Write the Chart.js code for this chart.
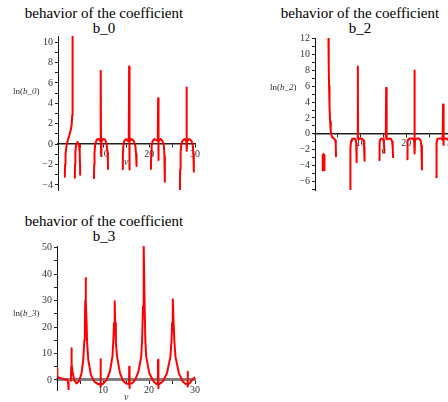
<!DOCTYPE html>
<html>
<head>
<meta charset="utf-8">
<script src="https://cdn.jsdelivr.net/npm/chart.js@4.4.0/dist/chart.umd.min.js"></script>
<style>
  html, body { margin: 0; padding: 0; width: 448px; height: 402px; overflow: hidden; background: #fff; }
  canvas { position: absolute; }
  .title { position: absolute; width: 224px; text-align: center; font: 15px "Liberation Serif", serif; line-height: 15px; color: #000; }
  .ylab { position: absolute; font: 9px "Liberation Serif", serif; line-height: 12px; color: #333; white-space: nowrap; }
  .xlab { position: absolute; font: italic 10px "Liberation Serif", serif; line-height: 12px; color: #333; }
</style>
</head>
<body>
<div class="title" style="left:-8px;top:6px">behavior of the coefficient<br>b_0</div>
<div class="title" style="left:248px;top:6px">behavior of the coefficient<br>b_2</div>
<div class="title" style="left:-8px;top:214px">behavior of the coefficient<br>b_3</div>

<canvas id="chartB0" width="224" height="200" style="left:0;top:0"></canvas>
<canvas id="chartB2" width="260" height="200" style="left:224px;top:0"></canvas>
<canvas id="chartB3" width="224" height="202" style="left:0;top:200px"></canvas>

<div class="ylab" style="left:13px;top:85px">ln(<i>b_0</i>)</div>
<div class="ylab" style="left:270px;top:81px">ln(<i>b_2</i>)</div>
<div class="ylab" style="left:13px;top:307px">ln(<i>b_3</i>)</div>
<div class="xlab" style="left:124px;top:156px">ν</div>
<div class="xlab" style="left:381px;top:145px">ν</div>
<div class="xlab" style="left:124px;top:391px">ν</div>

<script>
// Valores (null = corte entre ramas)
const b0Nu = [1.5, 1.55, 1.65, 1.85, 2.1, 2.5, 2.8, 3.0, 3.1, 3.15, 3.2, 3.23, 3.23,
    3.7, 3.73, 3.8, 3.95, 4.3, 4.6, 4.75, 4.82, 4.85, 4.85,
    7.88, 7.92, 8.0, 8.15, 8.5, 8.9, 9.2, 9.33, 9.38, 9.43, 9.5, 9.8, 10.3, 10.65, 10.85, 10.92, 10.95, 10.95,
    14.15, 14.2, 14.3, 14.5, 14.9, 15.3, 15.5, 15.57, 15.63, 15.7, 16.1, 16.6, 16.95, 17.1, 17.2, 17.2,
    20.35, 20.4, 20.5, 20.7, 21.1, 21.6, 21.85, 21.92, 21.98, 22.05, 22.5, 22.9, 23.2, 23.3, 23.4, 23.4,
    26.7, 26.75, 26.85, 27.0, 27.3, 27.7, 28.0, 28.1, 28.15, 28.2, 28.3, 28.7, 29.2, 29.5, 29.65, 29.75];
const b0Ln = [-3.2, -2.0, -1.0, -0.2, 0.3, 0.9, 1.4, 1.9, 2.8, 4.5, 7.5, 10.6, null,
    -3.3, -2, -0.8, -0.1, 0.2, -0.1, -0.8, -2, -3.0, null,
    -3.35, -2, -0.8, 0, 0.45, 0.5, 0.3, 0.5, 7.2, -1.1, 0.2, 0.5, 0.45, 0, -0.8, -1.6, -2.45, null,
    -2.45, -1.2, -0.2, 0.3, 0.5, 0.3, 0.5, 7.6, -2.5, 0.3, 0.5, 0.3, -0.2, -1.0, -2.15, null,
    -2.45, -1.2, -0.2, 0.3, 0.5, 0.35, 0.5, 4.5, -1.55, 0.3, 0.5, 0.3, -0.2, -1.2, -3.7, null,
    -4.6, -2.5, -0.8, 0, 0.35, 0.5, 0.3, 0.5, 5.55, -0.65, 0.3, 0.5, 0.35, -0.1, -1.0, -2.7];

const b2Nu = [1.65, 1.68, 1.72, 1.85, 2.0, 2.05, 2.1, 2.1,
    2.95, 3.0, 3.08, 3.18, 3.3, 3.45, 3.6, 3.85, 4.2, 4.45, 4.55, 4.6, 4.6,
    7.7, 7.73, 7.78, 7.9, 8.1, 8.6, 8.9, 9.02, 9.1, 9.15, 9.15,
    9.33, 9.38, 9.43, 9.55, 9.9, 10.4, 10.65, 10.75, 10.85, 10.85,
    14.07, 14.1, 14.18, 14.35, 14.7, 14.95, 15.1, 15.2, 15.2,
    15.5, 15.58, 15.63, 15.75, 16.2, 16.65, 16.9, 17.02, 17.1, 17.1,
    20.2, 20.23, 20.3, 20.45, 20.8, 21.3, 21.6, 21.72, 21.78, 21.84, 21.9, 22.2, 22.8, 23.1, 23.3, 23.42, 23.42,
    26.55, 26.58, 26.65, 26.8, 27.2, 27.7, 27.95, 28.05, 28.12, 28.2, 28.6, 29.1, 29.4, 29.55, 29.65];
const b2Ln = [-4.6, -3.2, -2.7, -2.55, -2.7, -3.2, -4.6, null,
    12.2, 9, 6, 3.5, 1.5, 0.4, -0.2, -0.5, -0.6, -0.8, -1.5, -2.85, null,
    -7.2, -4, -1.8, -0.9, -0.65, -0.6, -0.7, -1.2, -2.2, -3.6, null,
    -0.5, 8.5, -0.5, -0.7, -0.6, -0.65, -0.9, -1.6, -3.4, null,
    -3.3, -2, -1, -0.65, -0.6, -0.7, -1.2, -2.4, null,
    -0.5, 5.8, -0.5, -0.7, -0.6, -0.65, -1, -1.8, -2.95, null,
    -3.2, -2, -1, -0.65, -0.6, -0.6, -0.7, -1.0, 8.0, -2.5, -0.8, -0.6, -0.6, -0.8, -1.5, -4.5, null,
    -5.5, -3, -1.2, -0.65, -0.6, -0.6, -0.8, 3.7, -1.4, -0.7, -0.6, -0.65, -1, -2, -3.5];

const b3Nu = [0.05, 0.08, 0.5, 1.2, 1.7, 2.2, 2.4, 2.5, 2.55, 2.55,
    3.02, 3.08, 3.13, 3.22, 3.37, 3.73, 4.24, 4.75, 5.33, 5.7, 5.95, 6.06, 6.15, 6.22, 6.3, 6.43, 6.55, 6.8, 7.37,
    8.1, 8.83, 9.35, 9.45, 9.55, 9.65, 10.0, 10.8, 11.5, 12.05, 12.25, 12.4, 12.55, 12.65, 12.8, 13.06, 13.7,
    14.45, 15.1, 15.65, 15.7, 15.75, 15.8, 16.3, 17.0, 17.7, 18.3, 18.5, 18.7, 18.85, 19.05, 19.2, 19.4, 20.07,
    21.0, 21.6, 21.93, 21.97, 22.02, 22.07, 22.3, 23.0, 23.9, 24.66, 24.9, 25.03, 25.17, 25.35, 25.5, 25.75, 26.5,
    27.35, 27.95, 28.35, 28.4, 28.45, 28.5, 28.8, 29.4, 29.9];
const b3Ln = [4.4, 1.3, 0.8, 0.5, 0.25, 0, -0.8, -2, -3.8, null,
    -0.3, 5, 12, 6, 3.1, 0, -1.3, -0.6, 2.5, 7.6, 15, 21.5, 30, 38.5, 30, 21.5, 14, 7.6, 1.9,
    -0.6, -1.5, -1.4, 7.8, -2.5, -1.4, -1.5, 0, 3.2, 8.8, 15, 21.5, 29.7, 21.5, 14, 8.8, 2.5,
    -0.6, -1.4, -1.3, 5.0, -3.1, -1.3, -1.3, 0, 3.1, 8.8, 15, 27.8, 50.5, 27.8, 15, 8.8, 2.5,
    -0.6, -1.5, -1.4, 7.6, -3.1, -1.4, -1.5, -0.6, 2.5, 8.8, 15, 21.5, 30.5, 21.5, 15, 8.8, 2.5,
    -0.6, -1.5, -1.3, 3.1, -2.5, -1.3, -1.3, 0, 1.0];

// Etiquetas de los ejes
const nuLabels = [10, 20, 30];
const b0Labels = [-4, -2, 0, 2, 4, 6, 8, 10];
const b2Labels = [-6, -4, -2, 0, 2, 4, 6, 8, 10, 12];
const b3Labels = [0, 10, 20, 30, 40, 50];

const tickFont = { family: 'Liberation Serif', size: 10 };

function fmt(v) {
    return v < 0 ? '\u2212' + Math.abs(v) : String(v);
}

function buildChart(id, nu, ln, labels, cfg) {
    const points = nu.map((v, i) => ({ x: v, y: ln[i] }));
    new Chart(document.getElementById(id), {
        type: 'line',
        data: {
            datasets: [{
                data: points,
                borderColor: '#ff0000',
                borderWidth: 2,
                pointRadius: 0,
                tension: 0,
                spanGaps: false,
                fill: false,
                borderJoinStyle: 'round',
                borderCapStyle: 'round'
            }]
        },
        options: {
            responsive: false,
            animation: false,
            events: [],
            layout: { padding: { left: 0, top: cfg.top, right: cfg.right, bottom: cfg.bottom } },
            plugins: { legend: { display: false }, tooltip: { enabled: false } },
            scales: {
                x: {
                    type: 'linear',
                    min: 0,
                    max: 30,
                    position: { y: 0 },
                    afterFit: s => { s.height = 0; },
                    border: { color: cfg.axisColor, width: cfg.axisWidth },
                    grid: { drawOnChartArea: false, color: '#222', tickLength: 3 },
                    ticks: {
                        stepSize: 5,
                        autoSkip: false,
                        maxRotation: 0,
                        padding: 1,
                        color: '#333',
                        font: tickFont,
                        callback: v => nuLabels.includes(v) ? String(v) : ''
                    }
                },
                y: {
                    type: 'linear',
                    min: cfg.min,
                    max: cfg.max,
                    afterFit: s => { s.width = cfg.left; },
                    border: { color: '#111', width: 1 },
                    grid: { drawOnChartArea: false, color: '#222', tickLength: 3 },
                    ticks: {
                        stepSize: cfg.step,
                        includeBounds: false,
                        autoSkip: false,
                        padding: 2,
                        color: '#333',
                        font: tickFont,
                        callback: v => labels.includes(v) ? fmt(v) : ''
                    }
                }
            }
        }
    });
}

buildChart('chartB0', b0Nu, b0Ln, b0Labels,
    { left: 58, top: 36, right: 29, bottom: 10, min: -4.5, max: 10.6, step: 1, axisColor: '#222', axisWidth: 1.5 });
buildChart('chartB2', b2Nu, b2Ln, b2Labels,
    { left: 91, top: 38, right: 32, bottom: 10, min: -7.1, max: 12.1, step: 1, axisColor: '#222', axisWidth: 1.5 });
buildChart('chartB3', b3Nu, b3Ln, b3Labels,
    { left: 57, top: 46, right: 29, bottom: 12, min: -3.8, max: 50.6, step: 5, axisColor: '#808080', axisWidth: 3 });
</script>
</body>
</html>
